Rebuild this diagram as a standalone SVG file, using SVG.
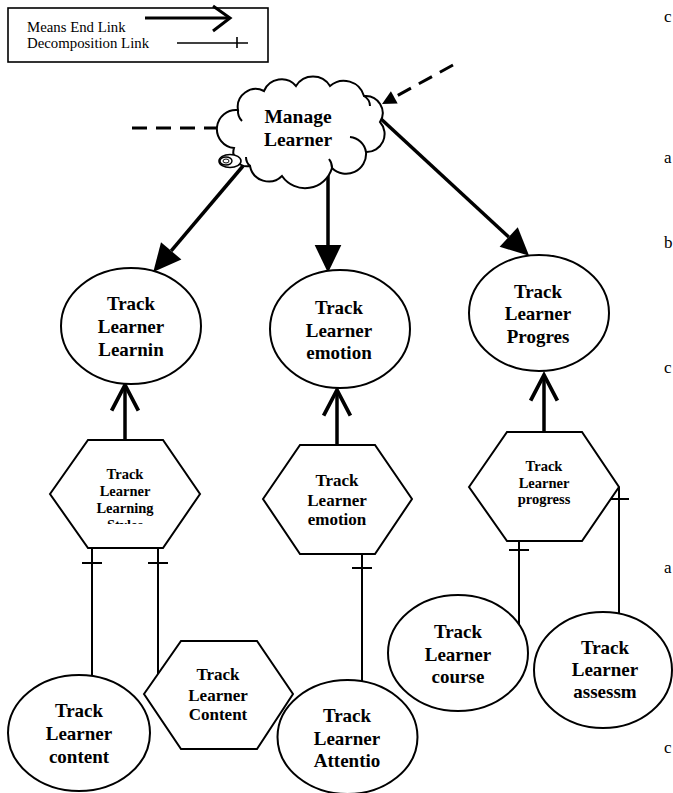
<svg xmlns="http://www.w3.org/2000/svg" width="673" height="793" viewBox="0 0 673 793">
<style>
.shape{fill:#fff;stroke:#000;stroke-width:2}
.lbl{font-family:"Liberation Serif","Times New Roman",serif;font-weight:bold;text-anchor:middle;fill:#000}
.big{font-size:19px}
.mid{font-size:17px}
.sml{font-size:14.5px}
.leg{font-family:"Liberation Serif","Times New Roman",serif;font-size:14.8px;fill:#000}
.side{font-family:"Liberation Serif","Times New Roman",serif;font-size:17px;fill:#000}
.me{stroke:#000;stroke-width:3.5;fill:none}
.dec{stroke:#000;stroke-width:2;fill:none}
.dash{stroke:#000;stroke-width:3;fill:none;stroke-dasharray:15 9}
</style>
<defs>
<marker id="fill" markerUnits="userSpaceOnUse" markerWidth="30" markerHeight="30" viewBox="0 -13 27 26" refX="0" refY="0" orient="auto" overflow="visible">
<path d="M0,-12 L25,0 L0,12 Z" fill="#000"/>
</marker>
<marker id="small" markerUnits="userSpaceOnUse" markerWidth="16" markerHeight="16" viewBox="0 -8 15 16" refX="0" refY="0" orient="auto" overflow="visible">
<path d="M0,-7 L14,0 L0,7 Z" fill="#000"/>
</marker>
<marker id="open" markerUnits="userSpaceOnUse" markerWidth="30" markerHeight="30" viewBox="-26 -14 28 28" refX="0" refY="0" orient="auto" overflow="visible">
<path d="M-24,-12.5 L0,0 L-24,12.5" fill="none" stroke="#000" stroke-width="3.5"/>
</marker>
<clipPath id="clipH1"><rect x="40" y="440" width="170" height="84"/></clipPath>
</defs>

<g id="legend">
<rect x="8" y="8" width="260" height="54" fill="#fff" stroke="#000" stroke-width="1.6"/>
<text class="leg" x="27" y="32">Means End Link</text>
<text class="leg" x="27" y="48">Decomposition Link</text>
<line x1="145" y1="18" x2="229" y2="18" stroke="#000" stroke-width="3"/>
<polyline points="213,6 230,18 213,31" fill="none" stroke="#000" stroke-width="3"/>
<line x1="177" y1="43" x2="248" y2="43" stroke="#000" stroke-width="1.6"/>
<line x1="237" y1="37" x2="237" y2="48" stroke="#000" stroke-width="1.6"/>
</g>

<g id="connectors">
<line class="dash" x1="132" y1="128" x2="222" y2="128"/>
<line class="dash" x1="453" y1="65" x2="394.3" y2="97.3" marker-end="url(#small)"/>
<line class="me" x1="243" y1="166" x2="171.2" y2="250.9" marker-end="url(#fill)"/>
<line class="me" x1="328" y1="165" x2="328" y2="245" marker-end="url(#fill)"/>
<line class="me" x1="380" y1="118" x2="508.7" y2="237" marker-end="url(#fill)"/>
<line class="me" x1="125" y1="440" x2="125" y2="385" marker-end="url(#open)"/>
<line class="me" x1="337" y1="445" x2="337" y2="390" marker-end="url(#open)"/>
<line class="me" x1="544" y1="432" x2="544" y2="375" marker-end="url(#open)"/>
<line class="dec" x1="92" y1="548" x2="92" y2="676"/>
<line class="dec" x1="82" y1="563" x2="102" y2="563"/>
<line class="dec" x1="158" y1="548" x2="158" y2="674"/>
<line class="dec" x1="148" y1="563" x2="168" y2="563"/>
<line class="dec" x1="362" y1="554" x2="362" y2="681"/>
<line class="dec" x1="352" y1="568" x2="372" y2="568"/>
<line class="dec" x1="519" y1="541" x2="519" y2="625"/>
<line class="dec" x1="509" y1="550" x2="529" y2="550"/>
<line class="dec" x1="619" y1="487" x2="619" y2="614"/>
<line class="dec" x1="609" y1="499" x2="629" y2="499"/>
</g>

<g id="manage-learner">
<path class="shape" d="M234,148 A19,19 0 0,1 238,110 A18,18 0 0,1 264,91 A19,19 0 0,1 296,86 A20,20 0 0,1 330,86 A21,21 0 0,1 364,96 A17,17 0 0,1 380,122 A18,18 0 0,1 366,152 A20,20 0 0,1 332,168 A28,28 0 0,1 282,176 A19,19 0 0,1 250,166 A14,14 0 0,1 234,148 Z"/>
<path class="dec" d="M238,110 A14,14 0 0,0 242,121"/>
<path class="dec" d="M364,96 A12,12 0 0,1 370,106"/>
<path class="dec" d="M350,137 A18,18 0 0,1 366,152"/>
<path class="dec" d="M332,168 A14,14 0 0,0 329,159"/>
<path class="dec" d="M250,166 A12,12 0 0,1 246,157"/>
<ellipse cx="230" cy="161" rx="11" ry="6.5" fill="#fff" stroke="#000" stroke-width="1.6"/>
<ellipse cx="226" cy="161" rx="6" ry="4" fill="none" stroke="#000" stroke-width="1.4"/>
<ellipse cx="226" cy="161" rx="3" ry="2" fill="none" stroke="#000" stroke-width="1"/>
<text class="lbl" style="font-size:19.5px" x="298" y="123">Manage</text>
<text class="lbl" style="font-size:19.5px" x="298" y="146">Learner</text>
</g>

<g id="goal-learning">
<ellipse class="shape" cx="131" cy="326" rx="70" ry="58"/>
<text class="lbl big" x="131" y="310">Track</text>
<text class="lbl big" x="131" y="333">Learner</text>
<text class="lbl big" x="131" y="356">Learnin</text>
</g>

<g id="goal-emotion">
<ellipse class="shape" cx="340" cy="329" rx="70" ry="59"/>
<text class="lbl big" x="339" y="314">Track</text>
<text class="lbl big" x="339" y="337">Learner</text>
<text class="lbl big" x="339" y="359">emotion</text>
</g>

<g id="goal-progress">
<ellipse class="shape" cx="539" cy="313" rx="70" ry="58"/>
<text class="lbl big" x="538" y="298">Track</text>
<text class="lbl big" x="538" y="320">Learner</text>
<text class="lbl big" x="538" y="343">Progres</text>
</g>

<g id="task-learning-styles">
<polygon class="shape" points="50,494 88,440 163,440 200,494 163,548 88,548"/>
<g clip-path="url(#clipH1)">
<text class="lbl sml" x="125" y="479">Track</text>
<text class="lbl sml" x="125" y="496">Learner</text>
<text class="lbl sml" x="125" y="513">Learning</text>
<text class="lbl sml" x="125" y="530">Styles</text>
</g>
</g>

<g id="task-emotion">
<polygon class="shape" points="263,499 300,445 375,445 412,499 375,554 300,554"/>
<text class="lbl mid" x="337" y="486">Track</text>
<text class="lbl mid" x="337" y="506">Learner</text>
<text class="lbl mid" x="337" y="525">emotion</text>
</g>

<g id="task-progress">
<polygon class="shape" points="469,487 507,432 582,432 619,487 582,541 507,541"/>
<text class="lbl sml" x="544" y="471">Track</text>
<text class="lbl sml" x="544" y="488">Learner</text>
<text class="lbl sml" x="544" y="504">progress</text>
</g>

<g id="task-content">
<polygon class="shape" points="144,694 181,641 257,641 293,694 257,749 181,749"/>
<text class="lbl mid" x="218" y="680">Track</text>
<text class="lbl mid" x="218" y="701">Learner</text>
<text class="lbl mid" x="218" y="720">Content</text>
</g>

<g id="goal-content">
<ellipse class="shape" cx="79" cy="733" rx="71" ry="58"/>
<text class="lbl big" x="79" y="717">Track</text>
<text class="lbl big" x="79" y="740">Learner</text>
<text class="lbl big" x="79" y="763">content</text>
</g>

<g id="goal-attention">
<ellipse class="shape" cx="347.5" cy="737" rx="70" ry="57"/>
<text class="lbl big" x="347" y="722">Track</text>
<text class="lbl big" x="347" y="745">Learner</text>
<text class="lbl big" x="347" y="767">Attentio</text>
</g>

<g id="goal-course">
<ellipse class="shape" cx="458" cy="653" rx="70" ry="58"/>
<text class="lbl big" x="458" y="638">Track</text>
<text class="lbl big" x="458" y="661">Learner</text>
<text class="lbl big" x="458" y="683">course</text>
</g>

<g id="goal-assessment">
<ellipse class="shape" cx="603" cy="670" rx="69" ry="58"/>
<text class="lbl big" x="605" y="654">Track</text>
<text class="lbl big" x="605" y="676">Learner</text>
<text class="lbl big" x="605" y="698">assessm</text>
</g>

<g id="side-letters">
<text class="side" x="664" y="22">c</text>
<text class="side" x="664" y="163">a</text>
<text class="side" x="664" y="248">b</text>
<text class="side" x="664" y="373">c</text>
<text class="side" x="664" y="573">a</text>
<text class="side" x="664" y="753">c</text>
</g>
</svg>
